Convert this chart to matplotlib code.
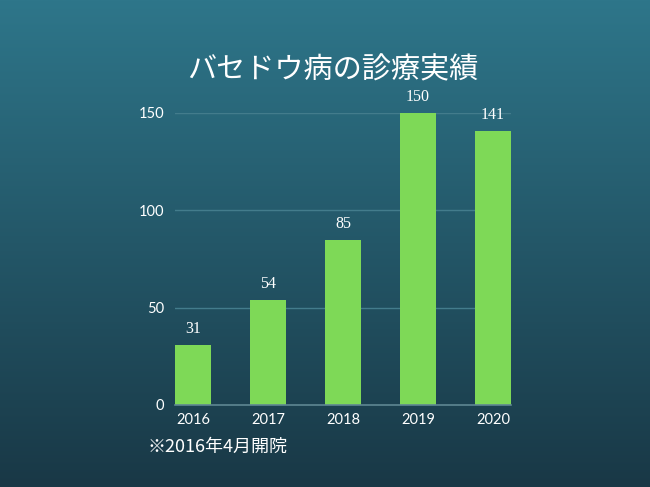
import matplotlib
matplotlib.use("Agg")
import matplotlib.pyplot as plt
import numpy as np

years = ["2016", "2017", "2018", "2019", "2020"]
values = [31, 54, 85, 150, 141]
yticks = [0, 50, 100, 150]
title = "バセドウ病の診療実績"
note = "※2016年4月開院"

fig = plt.figure(figsize=(6.5, 4.87), dpi=100)

# gradient background
bg = fig.add_axes([0, 0, 1, 1], zorder=-10)
top = np.array([46, 118, 138]) / 255
bot = np.array([25, 56, 70]) / 255
t = np.linspace(0, 1, 256)[:, None]
grad = top[None, :] * (1 - t) + bot[None, :] * t
bg.imshow(grad[:, None, :], aspect="auto", extent=[0, 1, 0, 1])
bg.axis("off")

ax = fig.add_axes([175/650, 82/487, 336/650, 292/487])
ax.set_facecolor("none")
x = np.arange(len(years))
bars = ax.bar(x, values, width=0.48, color="#7ed957", zorder=3)
ax.set_xlim(-0.24, len(years) - 1 + 0.24)
ax.set_ylim(0, 150)
ax.set_yticks(yticks)
ax.set_xticks(x)
ax.set_xticklabels(years)
for s in ["top", "right", "left"]:
    ax.spines[s].set_visible(False)
ax.spines["bottom"].set_color("#5f8793")
ax.spines["bottom"].set_linewidth(1.2)
ax.spines["bottom"].set_zorder(4)
ax.tick_params(length=0, colors="white", labelsize=10.5, pad=6)
ax.tick_params(axis="y", pad=8)
for lab in ax.get_xticklabels() + ax.get_yticklabels():
    lab.set_family("Lato")
    lab.set_color("white")
for v in yticks[1:]:
    ax.axhline(v, color="#437c8c", lw=1, zorder=1)

for xi, v in zip(x, values):
    ax.text(xi, v + 4, str(v), ha="center", va="bottom", color="white",
            fontsize=11.5, family="Liberation Serif", clip_on=False)

fig.text(333/650, 1 - 70/487, title, ha="center", va="center", color="white",
         fontsize=21, family=["Noto Sans CJK JP", "DejaVu Sans"])
fig.text(148/650, 1 - 447/487, note, ha="left", va="center", color="white",
         fontsize=13, family=["Noto Sans CJK JP", "DejaVu Sans"])

fig.savefig("out.png", dpi=100)
